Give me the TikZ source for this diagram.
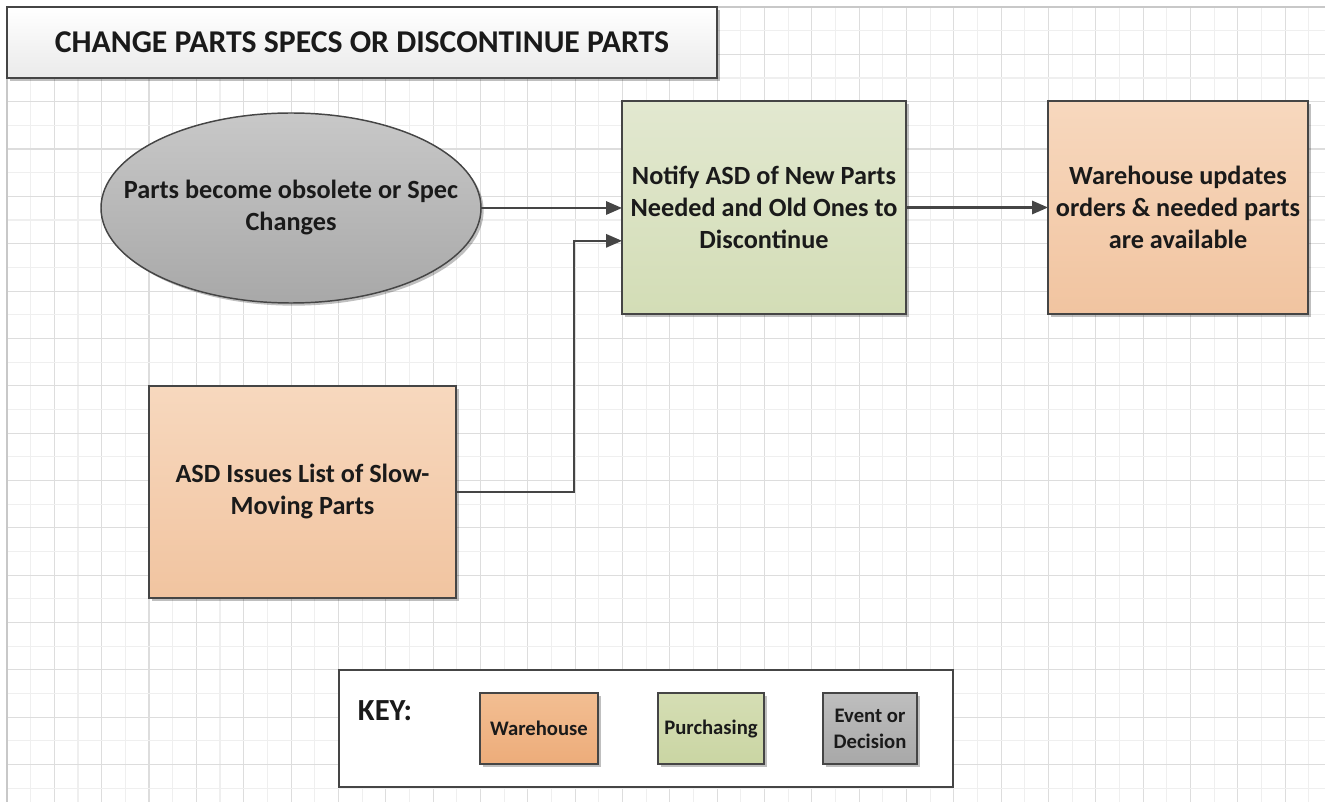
\documentclass[tikz,border=0pt]{standalone}
\usepackage{fontspec}
\setmainfont{Carlito}
\usetikzlibrary{arrows.meta,shadows,calc,shapes.geometric}
\definecolor{txt}{HTML}{1A1A1A}
\definecolor{edge}{HTML}{454545}
\definecolor{gridmin}{HTML}{EFEFEF}
\definecolor{gridmaj}{HTML}{DDDDDD}
\tikzset{
  base/.style={draw=edge, line width=1.1pt, inner sep=0pt, outer sep=0pt, align=center, text=txt,
    font=\bfseries\fontsize{19.7}{24}\selectfont,
    drop shadow={shadow xshift=2pt, shadow yshift=-2pt, opacity=0.25, fill=black}},
  orangebox/.style={base, rectangle, top color={rgb,255:red,247;green,216;blue,190}, bottom color={rgb,255:red,241;green,196;blue,160}},
  greenbox/.style={base, rectangle, top color={rgb,255:red,226;green,232;blue,208}, bottom color={rgb,255:red,211;green,221;blue,182}},
  grayell/.style={base, ellipse, top color={rgb,255:red,200;green,200;blue,200}, bottom color={rgb,255:red,168;green,168;blue,168}},
  plaintext/.style={inner sep=0pt, align=center, text=txt, font=\bfseries\fontsize{19.7}{24}\selectfont},
  titlebox/.style={base, rectangle, top color=white, bottom color={rgb,255:red,234;green,234;blue,234},
    font=\bfseries\fontsize{23.8}{28}\selectfont},
  keybox/.style={draw=edge, line width=1.1pt, fill=white, inner sep=0pt},
  keyitem/.style={base, rectangle, font=\bfseries\fontsize{15.5}{19.5}\selectfont},
  arr/.style={draw=edge, line width=1.6pt, -{Triangle[length=12pt,width=10pt]}},
  gmin/.style={draw=gridmin, line width=0.8pt},
  gmaj/.style={draw=gridmaj, line width=0.8pt},
}
\begin{document}
\begin{tikzpicture}[x=0.75pt,y=-0.75pt]
\useasboundingbox (0,0) rectangle (1325,802);
\fill[white] (0,0) rectangle (1325,802);
% grid
\foreach \i in {0,...,55} {
  \pgfmathtruncatemacro{\ev}{mod(\i,2)}
  \ifnum\ev=0 \draw[gmaj] ({7+\i*23.67},7) -- ({7+\i*23.67},802);
  \else \draw[gmin] ({7+\i*23.67},7) -- ({7+\i*23.67},802); \fi
}
\foreach \j in {0,...,33} {
  \pgfmathtruncatemacro{\ev}{mod(\j,2)}
  \ifnum\ev=0 \draw[gmaj] (7,{7+\j*23.67}) -- (1325,{7+\j*23.67});
  \else \draw[gmin] (7,{7+\j*23.67}) -- (1325,{7+\j*23.67}); \fi
}
\draw[draw={rgb,255:red,200;green,200;blue,200}, line width=1.5pt] (7,802) -- (7,7) -- (1325,7);

% title
\node[titlebox, minimum width=532.5pt, minimum height=53.25pt] (title) at (362,42.5) {CHANGE PARTS SPECS OR DISCONTINUE PARTS};

% main nodes
\node[grayell, minimum width=285pt, minimum height=142.5pt] (ev) at (291,208) {};
\node[plaintext] (evtxt) at (ev.center) {Parts become obsolete or Spec\\Changes};
\node[greenbox, minimum width=213pt, minimum height=159.75pt] (notify) at (764,207.5) {Notify ASD of New Parts\\Needed and Old Ones to\\Discontinue};
\node[orangebox, minimum width=195pt, minimum height=159.75pt] (wh) at (1178,207.5) {Warehouse updates\\orders \& needed parts\\are available};
\node[orangebox, minimum width=230.25pt, minimum height=159pt] (asd) at (302.5,492) {ASD Issues List of Slow-\\Moving Parts};

% connectors
\coordinate (n2) at ([yshift=-25pt]notify.west);
\draw[arr] (ev.east) -- (ev.east -| notify.west);
\draw[arr] (asd.east) -| ($(n2)+(-48,0)$) -- (n2);
\draw[arr] (notify.east) -- (notify.east -| wh.west);

% key
\node[keybox, minimum width=460.5pt, minimum height=87.75pt] (key) at (646,728.5) {};
\node[text=txt, font=\bfseries\fontsize{23}{28}\selectfont, inner sep=0pt] (keylbl) at (385,711) {KEY:};
\node[keyitem, top color={rgb,255:red,242;green,190;blue,146}, bottom color={rgb,255:red,237;green,172;blue,122}, minimum width=88.5pt, minimum height=53.25pt] (kw) at (539,728.5) {Warehouse};
\node[keyitem, top color={rgb,255:red,213;green,222;blue,180}, bottom color={rgb,255:red,202;green,213;blue,163}, minimum width=79.5pt, minimum height=53.25pt] (kp) at (711,728.5) {Purchasing};
\node[keyitem, top color={rgb,255:red,190;green,190;blue,190}, bottom color={rgb,255:red,168;green,168;blue,168}, minimum width=70.5pt, minimum height=53.25pt] (ke) at (870,728.5) {Event or\\Decision};
\end{tikzpicture}
\end{document}
